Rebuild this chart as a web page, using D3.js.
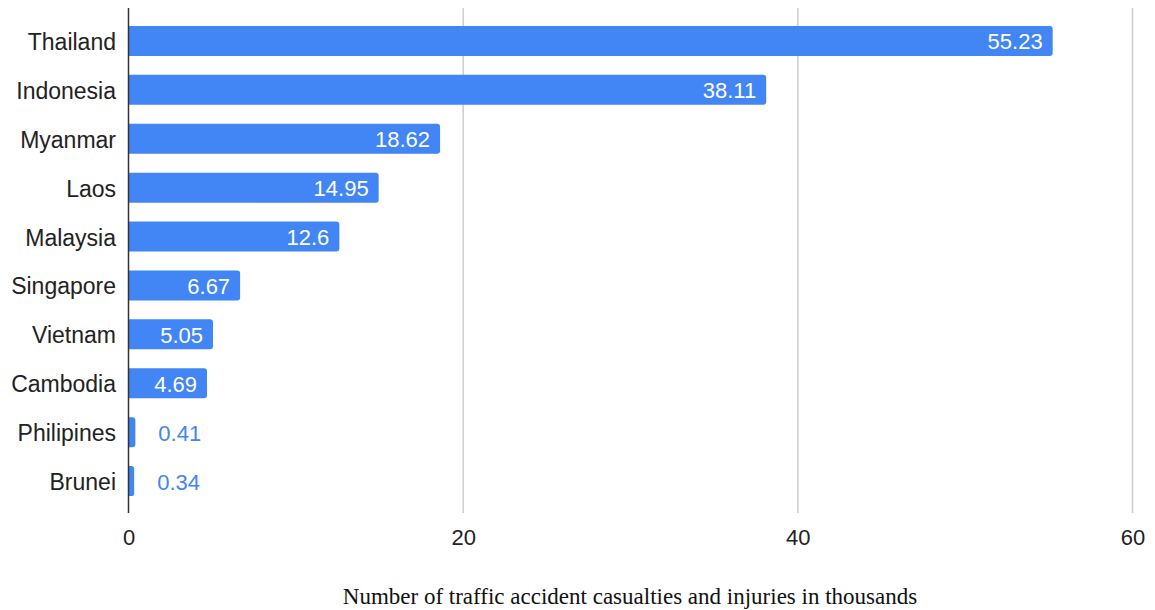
<!DOCTYPE html>
<html>
<head>
<meta charset="utf-8">
<script src="https://cdn.jsdelivr.net/npm/d3@7"></script>
<style>
  html, body { margin: 0; padding: 0; background: #fff; }
  svg { display: block; }
</style>
</head>
<body>
<svg id="chart" width="1155" height="610"></svg>
<script>
// Traffic accident casualties and injuries (thousands) by country
const countries = ["Thailand", "Indonesia", "Myanmar", "Laos", "Malaysia", "Singapore", "Vietnam", "Cambodia", "Philipines", "Brunei"];
const casualties = [55.23, 38.11, 18.62, 14.95, 12.6, 6.67, 5.05, 4.69, 0.41, 0.34];
const xTicks = [0, 20, 40, 60];
const xTitle = "Number of traffic accident casualties and injuries in thousands";

const rows = countries.map((c, i) => ({ name: c, value: casualties[i] }));

const svg = d3.select("#chart");
const plotLeft = 128.5, plotRight = 1132.5, plotTop = 7, plotBottom = 515;
const barColor = "#4285f4";
const sans = "Arial, 'Liberation Sans', Helvetica, sans-serif";
const fontSize = 22;

const x = d3.scaleLinear().domain([0, 60]).range([plotLeft, plotRight]);
const y = d3.scaleBand().domain(countries).range([plotTop, plotBottom]).padding(0.387);

// vertical gridlines
svg.append("g").selectAll("line").data(xTicks.filter(t => t > 0)).join("line")
  .attr("x1", d => x(d)).attr("x2", d => x(d))
  .attr("y1", 8).attr("y2", 513)
  .attr("stroke", "#cccccc").attr("stroke-width", 1.5);

// bars with rounded right end
const r = 3;
svg.append("g").selectAll("path").data(rows).join("path")
  .attr("fill", barColor)
  .attr("d", d => {
    const x0 = x(0), x1 = x(d.value), y0 = y(d.name), h = y.bandwidth();
    const rr = Math.min(r, (x1 - x0) / 2);
    return `M${x0},${y0}H${x1 - rr}Q${x1},${y0} ${x1},${y0 + rr}V${y0 + h - rr}Q${x1},${y0 + h} ${x1 - rr},${y0 + h}H${x0}Z`;
  });

// value labels: inside for long bars, outside for short ones
svg.append("g").selectAll("text").data(rows).join("text")
  .attr("font-family", sans).attr("font-size", fontSize)
  .attr("dominant-baseline", "central")
  .attr("y", d => y(d.name) + y.bandwidth() / 2 + 1)
  .each(function (d) {
    const inside = x(d.value) - x(0) > 60;
    d3.select(this)
      .attr("x", inside ? x(d.value) - 10 : x(d.value) + 23)
      .attr("text-anchor", inside ? "end" : "start")
      .attr("fill", inside ? "#ffffff" : barColor)
      .text(d.value);
  });

// category labels
svg.append("g").selectAll("text").data(rows).join("text")
  .attr("font-family", sans).attr("font-size", 23).attr("fill", "#222")
  .attr("text-anchor", "end").attr("dominant-baseline", "central")
  .attr("x", 116)
  .attr("y", d => y(d.name) + y.bandwidth() / 2 + 1)
  .text(d => d.name);

// baseline axis
svg.append("line")
  .attr("x1", plotLeft).attr("x2", plotLeft).attr("y1", 8).attr("y2", 513)
  .attr("stroke", "#333").attr("stroke-width", 1.5);

// x tick labels
const xAxis = d3.axisBottom(x).tickValues(xTicks).tickSize(0).tickPadding(0);
const gx = svg.append("g").attr("transform", `translate(0,${537})`).call(xAxis);
gx.select(".domain").remove();
gx.selectAll("text")
  .attr("font-family", sans).attr("font-size", fontSize).attr("fill", "#222")
  .attr("dy", null).attr("y", 0).attr("dominant-baseline", "central");

// x axis title
svg.append("text")
  .attr("x", 630).attr("y", 596)
  .attr("text-anchor", "middle").attr("dominant-baseline", "central")
  .attr("font-family", "'Liberation Serif', 'Times New Roman', Times, serif")
  .attr("font-size", 23).attr("fill", "#111")
  .text(xTitle);
</script>
</body>
</html>
